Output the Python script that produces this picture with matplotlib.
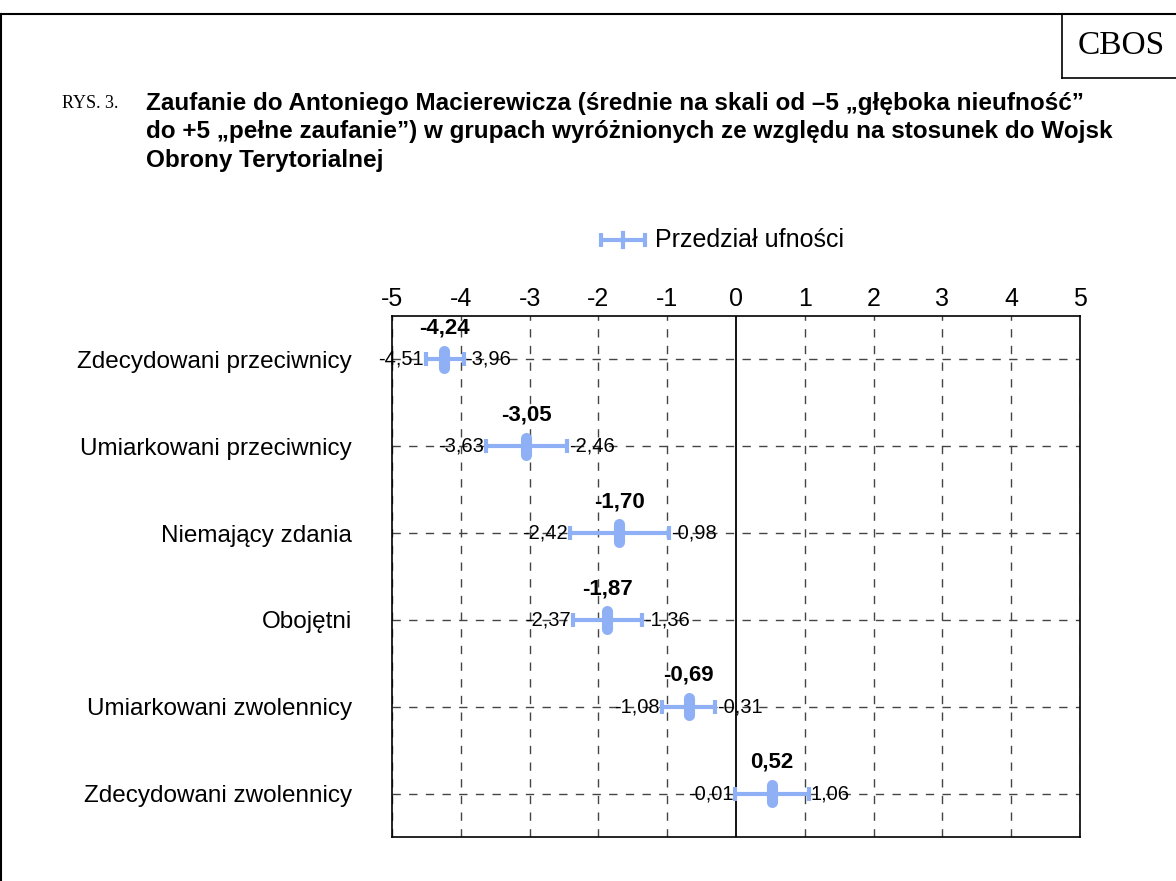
import matplotlib.pyplot as plt
from matplotlib.lines import Line2D

groups = ["Zdecydowani przeciwnicy", "Umiarkowani przeciwnicy", "Niemający zdania",
          "Obojętni", "Umiarkowani zwolennicy", "Zdecydowani zwolennicy"]
means = [-4.24, -3.05, -1.70, -1.87, -0.69, 0.52]
lower = [-4.51, -3.63, -2.42, -2.37, -1.08, -0.01]
upper = [-3.96, -2.46, -0.98, -1.36, -0.31, 1.06]
ticks = [-5, -4, -3, -2, -1, 0, 1, 2, 3, 4, 5]

blue = '#8fb0f5'
W, H = 1176, 881

def fmt(v):
    return f"{v:.2f}".replace('.', ',')

fig = plt.figure(figsize=(W / 100, H / 100), dpi=100)
plt.rcParams['font.family'] = ['Liberation Sans', 'DejaVu Sans']

# outer frame and CBOS box
fig.add_artist(Line2D([0, 1], [1 - 14 / H, 1 - 14 / H], color='black', lw=1.5))
fig.add_artist(Line2D([1.5 / W, 1.5 / W], [0, 1 - 14 / H], color='black', lw=1.5))
fig.add_artist(Line2D([1062 / W, 1062 / W], [1 - 14 / H, 1 - 78 / H], color='black', lw=1.2))
fig.add_artist(Line2D([1062 / W, 1], [1 - 78 / H, 1 - 78 / H], color='black', lw=1.2))
fig.text(1121 / W, 1 - 46 / H, "CBOS", family='Liberation Serif', fontsize=24,
         ha='center', va='center')

# title
fig.text(62 / W, 1 - 103 / H, "RYS. 3.", family='Liberation Serif', fontsize=13, va='center')
title = ("Zaufanie do Antoniego Macierewicza (średnie na skali od \u20135 \u201egłęboka nieufność\u201d\n"
         "do +5 \u201epełne zaufanie\u201d) w grupach wyróżnionych ze względu na stosunek do Wojsk\n"
         "Obrony Terytorialnej")
fig.text(146 / W, 1 - 92 / H, title, fontsize=17.5, fontweight='bold', va='top',
         linespacing=1.3)

ax = fig.add_axes([392 / W, 1 - 837 / H, (1080 - 392) / W, (837 - 316) / H])
y = list(range(1, len(groups) + 1))
ax.set_xlim(-5, 5)
ax.set_ylim(len(groups) + 0.5, 0.5)
ax.set_xticks(ticks)
ax.set_xticklabels([str(t) for t in ticks], fontsize=18)
ax.xaxis.tick_top()
ax.tick_params(axis='x', length=0, pad=3.5)
ax.set_yticks(y)
ax.set_yticklabels(groups, fontsize=17.5)
ax.tick_params(axis='y', length=0, pad=29)
for s in ax.spines.values():
    s.set_linewidth(1.2)

for t in ticks:
    if t != 0:
        ax.axvline(t, color='#444444', lw=1, ls=(0, (6, 6)), zorder=1)
ax.axvline(0, color='black', lw=1.3, zorder=1)
for yy in y:
    ax.axhline(yy, color='#444444', lw=1, ls=(0, (6, 6)), zorder=1)

for yy, m, lo, hi in zip(y, means, lower, upper):
    ax.errorbar([m], [yy], xerr=[[m - lo], [hi - m]], fmt='none', ecolor=blue,
                elinewidth=3, capsize=5, capthick=3, zorder=3)
    ax.plot([m, m], [yy - 0.1, yy + 0.1], color=blue, lw=8,
            solid_capstyle='round', zorder=4)
    ax.text(lo - 0.03, yy, fmt(lo), ha='right', va='center', fontsize=14.5, zorder=5)
    ax.text(hi + 0.03, yy, fmt(hi), ha='left', va='center', fontsize=14.5, zorder=5)
    ax.text(m, yy - 0.24, fmt(m), ha='center', va='bottom', fontsize=16,
            fontweight='bold', zorder=5)

# legend
leg_ax = fig.add_axes([597 / W, 1 - 252 / H, 52 / W, 24 / H])
leg_ax.set_xlim(0, 1)
leg_ax.set_ylim(0, 1)
leg_ax.axis('off')
leg_ax.errorbar([0.5], [0.5], xerr=[[0.42], [0.42]], fmt='none', ecolor=blue,
                elinewidth=3, capsize=5, capthick=3)
leg_ax.plot([0.5, 0.5], [0.2, 0.8], color=blue, lw=3)
fig.text(655 / W, 1 - 240 / H, "Przedział ufności", fontsize=18, va='center')

fig.savefig('out.png', dpi=100)
